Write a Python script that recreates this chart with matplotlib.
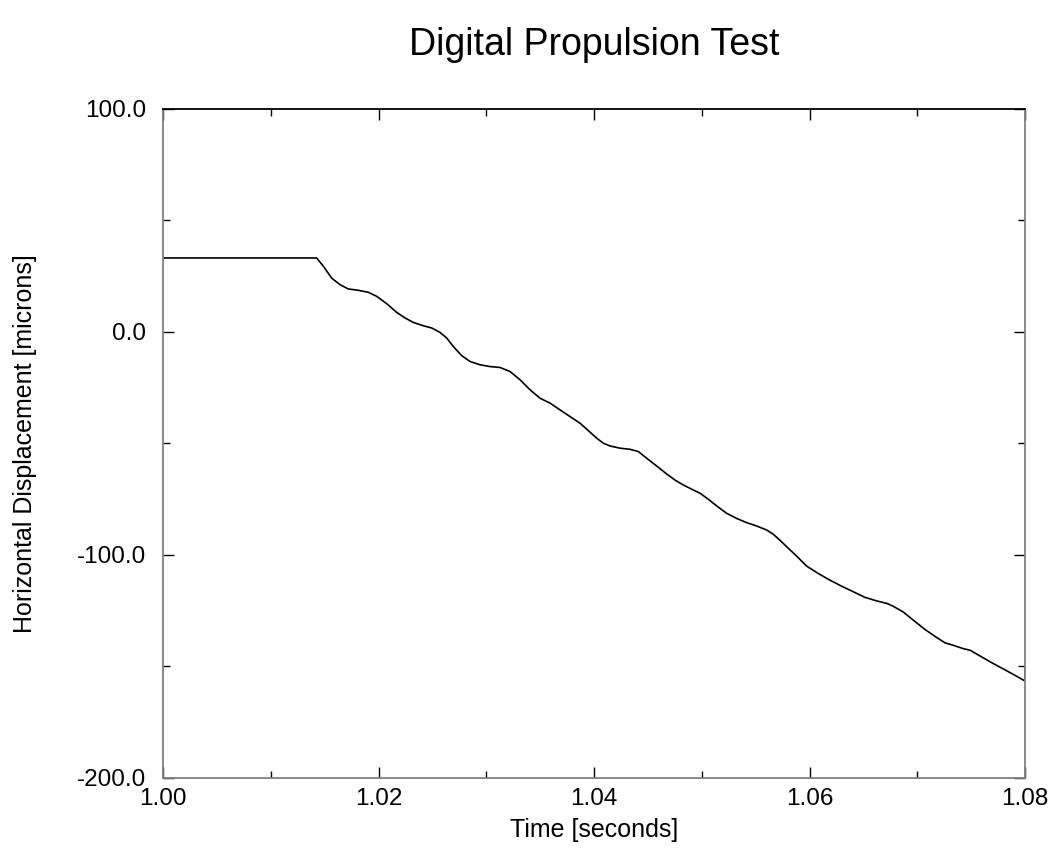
import matplotlib
matplotlib.use('Agg')
import matplotlib.pyplot as plt
from matplotlib.ticker import MultipleLocator, FormatStrFormatter

plt.rcParams['font.family'] = ['Liberation Sans', 'DejaVu Sans']

# time [s] and horizontal displacement [microns]
time_s = [1.00000, 1.01426, 1.01488, 1.01565, 1.01643, 1.01720, 1.01813,
          1.01906, 1.01983, 1.02076, 1.02169, 1.02246, 1.02323, 1.02416,
          1.02494, 1.02571, 1.02633, 1.02694, 1.02772, 1.02849, 1.02942,
          1.03035, 1.03128, 1.03220, 1.03313, 1.03406, 1.03499, 1.03592,
          1.03684, 1.03777, 1.03870, 1.03947, 1.04025, 1.04087, 1.04149,
          1.04241, 1.04334, 1.04411, 1.04489, 1.04582, 1.04675, 1.04752,
          1.04829, 1.04907, 1.04984, 1.05061, 1.05139, 1.05231, 1.05324,
          1.05417, 1.05510, 1.05603, 1.05664, 1.05726, 1.05804, 1.05881,
          1.05974, 1.06082, 1.06190, 1.06299, 1.06407, 1.06515, 1.06624,
          1.06717, 1.06778, 1.06871, 1.06963, 1.07072, 1.07180, 1.07258,
          1.07335, 1.07428, 1.07490, 1.07598, 1.07706, 1.07799, 1.07890,
          1.08000, 1.08000]
displacement = [33.2, 33.2, 29.5, 24.2, 21.2, 19.3, 18.7,
                17.8, 16.0, 12.7, 8.8, 6.3, 4.3, 2.8,
                1.8, -0.2, -2.7, -6.5, -10.6, -13.2, -14.7,
                -15.5, -15.9, -17.7, -21.4, -25.9, -29.7, -31.9,
                -34.9, -37.9, -40.9, -44.2, -47.6, -49.9, -51.1,
                -52.1, -52.6, -53.6, -56.6, -60.1, -63.7, -66.4,
                -68.6, -70.5, -72.3, -75.0, -78.0, -81.3, -83.6,
                -85.5, -87.0, -88.8, -90.7, -93.4, -97.0, -100.5,
                -105.0, -108.3, -111.3, -114.0, -116.5, -119.0, -120.6,
                -121.7, -123.0, -125.6, -129.2, -133.4, -137.0, -139.4,
                -140.5, -142.0, -142.7, -145.7, -148.7, -151.1, -153.5,
                -156.5, -150.5]

fig = plt.figure(figsize=(10.57, 8.5), dpi=100)
ax = fig.add_axes([163 / 1057, 1 - 778 / 850, 862 / 1057, 669 / 850])

ax.plot(time_s, displacement, color='black', linewidth=1.2)

ax.set_xlim(1.00, 1.08)
ax.set_ylim(-200, 100)
ax.xaxis.set_major_locator(MultipleLocator(0.02))
ax.xaxis.set_minor_locator(MultipleLocator(0.01))
ax.yaxis.set_major_locator(MultipleLocator(100))
ax.yaxis.set_minor_locator(MultipleLocator(50))
ax.xaxis.set_major_formatter(FormatStrFormatter('%.2f'))
ax.yaxis.set_major_formatter(FormatStrFormatter('%.1f'))

ax.tick_params(which='both', direction='in', top=True, right=True,
               labelsize=17.5, color='black', width=1)
ax.tick_params(which='major', length=8)
ax.tick_params(which='minor', length=5)
ax.tick_params(axis='y', which='major', pad=12)
ax.tick_params(axis='x', which='major', pad=7)

for side in ['left', 'bottom', 'right']:
    ax.spines[side].set_color('#808080')
    ax.spines[side].set_linewidth(1.3)
ax.spines['top'].set_color('black')
ax.spines['top'].set_linewidth(1.3)

ax.set_xlabel('Time [seconds]', fontsize=18, labelpad=6)
ax.set_ylabel('Horizontal Displacement [microns]', fontsize=18, labelpad=29)
fig.text(0.5625, 0.947, 'Digital Propulsion Test', fontsize=27,
         ha='center', va='center')

fig.savefig('out.png', dpi=100)
